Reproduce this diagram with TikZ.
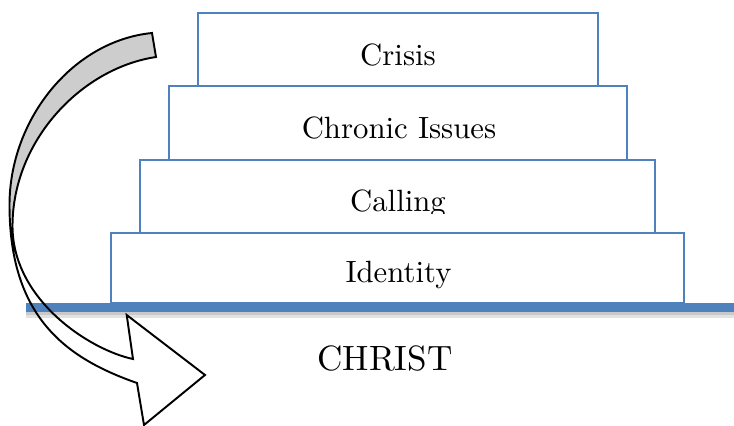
\documentclass[tikz,border=0pt]{standalone}
\usepackage{fontspec}
\setmainfont{lmroman10-regular}[Extension=.otf]
\definecolor{boxblue}{HTML}{4F81BD}
\definecolor{shadowA}{HTML}{C9C9C9}
\definecolor{shadowB}{HTML}{E2E2E2}
\definecolor{arrowgray}{HTML}{CDCDCD}
\begin{document}
\begin{tikzpicture}[x=0.02cm,y=-0.02cm,
  box/.style={draw=boxblue,line width=1pt,inner sep=0pt,outer sep=0pt},
  lbl/.style={anchor=base,inner sep=0pt,font=\fontsize{17.5}{20}\selectfont},
  biglbl/.style={anchor=base,inner sep=0pt,font=\fontsize{20}{24}\selectfont},
  arrowline/.style={draw=black,line width=1.1pt,line join=miter}]
\useasboundingbox (0,0) rectangle (734,426);
% stacked boxes
\node[box,minimum width=8cm,minimum height=1.46cm] (crisis) at (398,49.5) {};
\node[box,minimum width=9.16cm,minimum height=1.48cm] (chronic) at (398,123) {};
\node[box,minimum width=10.3cm,minimum height=1.46cm] (calling) at (397.5,196.5) {};
\node[box,minimum width=11.46cm,minimum height=1.4cm] (identity) at (397.5,268) {};
% labels
\node[lbl] (tcrisis) at (398,65) {Crisis};
\node[lbl] (tchronic) at (399,138) {Chronic Issues};
\begin{scope}
  \clip (140,160) rectangle (655,213);
  \node[lbl] (tcalling) at (398,211.5) {Calling};
\end{scope}
\node[lbl] (tidentity) at (398.5,282) {Identity};
% base line
\fill[boxblue] (26,303) rectangle (734,312);
\fill[shadowA] (26,312) rectangle (734,315);
\fill[shadowB] (26,315) rectangle (734,318);
\node[biglbl] (christ) at (385,370.5) {CHRIST};
% curved arrow
\coordinate (T1) at (152,33);
\coordinate (T2) at (156,57);
\coordinate (L) at (9.5,205);
\coordinate (X) at (12.5,226);
\coordinate (Bo) at (137,383);
\coordinate (Bi) at (133,359);
\coordinate (Bu) at (126.7,315);
\coordinate (Tip) at (205,375);
\coordinate (Bl) at (144,425);
\fill[arrowgray] (T1) .. controls (72,41) and (9.5,120) .. (L) -- (X)
  .. controls (12.5,141) and (81,68.25) .. (T2) -- cycle;
\draw[arrowline] (T1) .. controls (72,41) and (9.5,120) .. (L)
  .. controls (9.5,318) and (67,358.5) .. (Bo) -- (Bl) -- (Tip) -- (Bu) -- (Bi)
  .. controls (90,350) and (12.5,300) .. (X)
  .. controls (12.5,141) and (81,68.25) .. (T2) -- cycle;
\end{tikzpicture}
\end{document}
